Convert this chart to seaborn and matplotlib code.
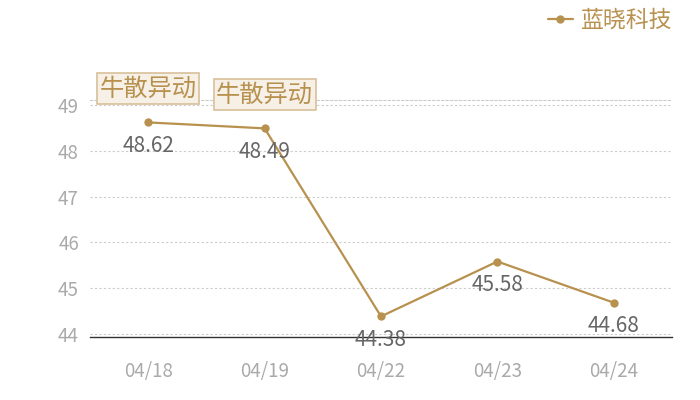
import matplotlib
matplotlib.use("Agg")
import matplotlib.pyplot as plt
import seaborn as sns
import pandas as pd

dates = ["04/18", "04/19", "04/22", "04/23", "04/24"]
prices = [48.62, 48.49, 44.38, 45.58, 44.68]
series_name = "蓝晓科技"
flag_text = "牛散异动"
flagged = [0, 1]
yticks = [44, 45, 46, 47, 48, 49]

gold = "#b8914f"

sns.set_style("white")
plt.rcParams["font.family"] = ["Noto Sans CJK SC", "DejaVu Sans"]

df = pd.DataFrame({"date": dates, "price": prices})
df["x"] = range(len(df))

fig = plt.figure(figsize=(7, 4), dpi=100)
ax = fig.add_axes([0.1286, 0.1575, 0.8314, 0.5925])

sns.lineplot(data=df, x="x", y="price", ax=ax, color=gold, linewidth=1.6,
             marker="o", markersize=6, markeredgewidth=0, label=series_name)

ax.set_xlim(-0.5, len(dates) - 0.5)
ax.set_ylim(43.93, 49.11)
ax.set_yticks(yticks)
ax.set_xticks(df["x"])
ax.set_xticklabels(dates)
ax.set_xlabel("")
ax.set_ylabel("")
ax.grid(axis="y", linestyle=(0, (2, 2)), color="#cccccc", linewidth=0.8)
ax.tick_params(axis="both", length=0, colors="#aaaaaa", labelsize=13.5)
ax.tick_params(axis="x", pad=17)
ax.tick_params(axis="y", pad=8)

for side in ["left", "right"]:
    ax.spines[side].set_visible(False)
ax.spines["top"].set_linestyle((0, (2, 2)))
ax.spines["top"].set_color("#cccccc")
ax.spines["top"].set_linewidth(0.8)
ax.spines["bottom"].set_color("#333333")
ax.spines["bottom"].set_linewidth(1)

# value labels under each point
for x, y in zip(df["x"], df["price"]):
    ax.annotate(f"{y:.2f}", (x, y), xytext=(0, -9), textcoords="offset points",
                ha="center", va="top", fontsize=15, color="#666666")

# flag boxes above flagged points
for i in flagged:
    ax.annotate(flag_text, (df["x"][i], df["price"][i]), xytext=(0, 15),
                textcoords="offset points", ha="center", va="bottom",
                fontsize=17.5, color=gold, annotation_clip=False,
                bbox=dict(boxstyle="square,pad=0.1", fc="#f6f0e7", ec="#d8c09a", lw=1.2))

ax.get_legend().remove()
handles, labels = ax.get_legend_handles_labels()
fig.legend(handles, labels, loc="upper right", bbox_to_anchor=(0.99, 1.03),
           frameon=False, fontsize=16.5, handlelength=1.1, handletextpad=0.35,
           labelcolor=gold)

fig.savefig("out.png", dpi=100)
